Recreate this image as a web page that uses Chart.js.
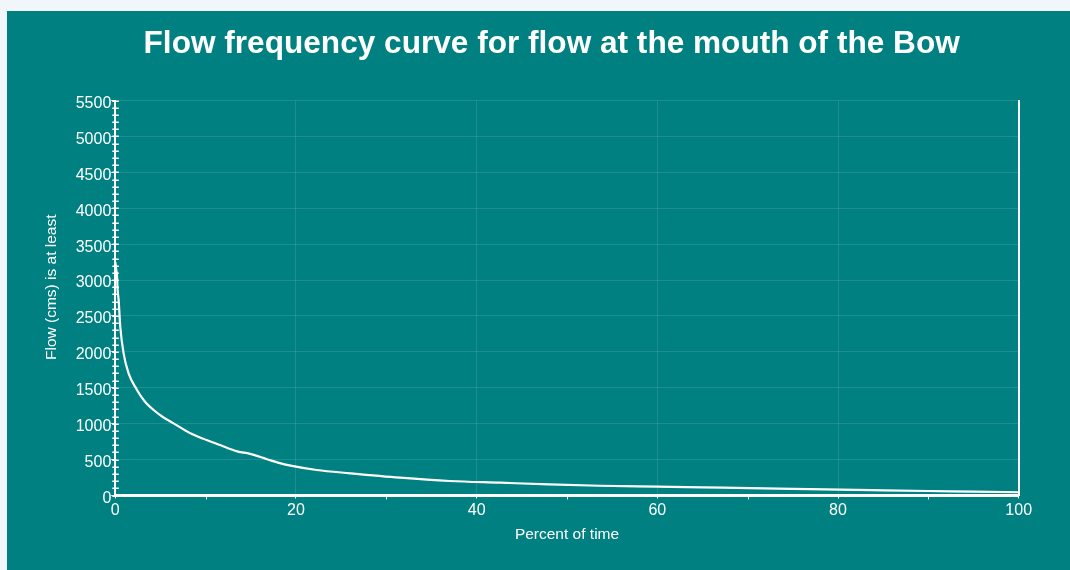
<!DOCTYPE html>
<html>
<head>
<meta charset="utf-8">
<title>Flow frequency curve for flow at the mouth of the Bow</title>
<script src="https://cdn.jsdelivr.net/npm/chart.js@4/dist/chart.umd.min.js"></script>
<style>
  html, body { margin: 0; padding: 0; }
  body { width: 1070px; height: 570px; background: #f1f6fa; overflow: hidden; position: relative; }
  #panel { position: absolute; left: 7px; top: 11px; width: 1063px; height: 559px; background: #008080; }
  #chart { display: block; }
</style>
</head>
<body>
<div id="panel"><canvas id="chart" width="1063" height="559"></canvas></div>
<script>
// Exceedance curve: percent of time (x) that the flow is at least a given value (y, cms)
const percentOfTime = [0, 0.1, 0.18, 0.26, 0.37, 0.55, 0.92, 1.47, 2.4, 3.2, 4.24, 5.3, 6.45, 8.3, 10.1, 11.6, 13.5, 14.9, 16.8, 18, 19.4, 22.3, 26, 31.5, 37, 42.6, 48, 53.6, 60, 65, 70.2, 75, 80.2, 85, 90, 95, 100];
const flowCms = [3250, 3150, 3080, 2860, 2720, 2350, 1980, 1700, 1470, 1320, 1190, 1090, 1005, 866, 773, 703, 615, 580, 505, 458, 415, 355, 309, 248, 202, 178, 155, 136, 123, 113, 104, 93, 81, 72, 63, 54, 45];

const chartTitle = 'Flow frequency curve for flow at the mouth of the Bow';
const xTitle = 'Percent of time';
const yTitle = 'Flow (cms) is at least';

const xRange = { min: 0, max: 100, major: 20, minor: 10 };
const yRange = { min: 0, max: 5500, major: 500, minor: 100 };

const FONT = "'Liberation Sans', Arial, Helvetica, sans-serif";
const WHITE = '#ffffff';
const GRID = 'rgba(255,255,255,0.11)';

const points = percentOfTime.map((p, i) => ({ x: p, y: flowCms[i] }));

// Small tick marks between the labelled ticks on both axes
const minorTicks = {
  id: 'minorTicks',
  afterDraw(chart) {
    const { ctx, chartArea } = chart;
    const xs = chart.scales.x, ys = chart.scales.y;
    ctx.save();
    ctx.strokeStyle = WHITE;
    ctx.lineWidth = 1.5;
    ctx.beginPath();
    for (let v = yRange.min; v <= yRange.max; v += yRange.minor) {
      const py = Math.round(ys.getPixelForValue(v)) + 0.25;
      ctx.moveTo(chartArea.left - 3, py);
      ctx.lineTo(chartArea.left + 3.5, py);
    }
    ctx.stroke();
    ctx.lineWidth = 1;
    ctx.beginPath();
    for (let v = xRange.min + xRange.minor; v < xRange.max; v += xRange.major) {
      const px = Math.round(xs.getPixelForValue(v)) + 0.5;
      ctx.moveTo(px, chartArea.bottom);
      ctx.lineTo(px, chartArea.bottom + 4);
    }
    ctx.stroke();
    ctx.restore();
  }
};

new Chart(document.getElementById('chart'), {
  type: 'line',
  data: {
    datasets: [{
      data: points,
      borderColor: WHITE,
      borderWidth: 2.2,
      pointRadius: 0,
      fill: false,
      cubicInterpolationMode: 'monotone'
    }]
  },
  options: {
    responsive: false,
    animation: false,
    layout: { padding: 0 },
    plugins: {
      legend: { display: false },
      tooltip: { enabled: false },
      title: {
        display: true,
        // leading spaces nudge the centred title slightly to the right
        text: '   ' + chartTitle,
        color: WHITE,
        font: { family: FONT, size: 31.6, weight: 'bold', lineHeight: 1.2 },
        padding: { top: 14, bottom: 37.6 }
      }
    },
    scales: {
      x: {
        type: 'linear',
        position: 'bottom',
        min: xRange.min,
        max: xRange.max,
        afterFit(scale) { scale.height = 74.5; },
        ticks: {
          stepSize: xRange.major,
          color: WHITE,
          font: { family: FONT, size: 16 },
          padding: 2,
          maxRotation: 0,
          callback: (v) => String(v)
        },
        grid: { color: GRID, tickColor: WHITE, tickLength: 3, lineWidth: 1 },
        border: { color: WHITE, width: 3 },
        title: {
          display: true,
          text: xTitle,
          color: WHITE,
          font: { family: FONT, size: 15.5 },
          padding: { top: 0, bottom: 26 }
        }
      },
      y: {
        type: 'linear',
        position: 'left',
        min: yRange.min,
        max: yRange.max,
        afterFit(scale) { scale.width = 108.3; },
        ticks: {
          stepSize: yRange.major,
          color: WHITE,
          font: { family: FONT, size: 16 },
          padding: 0,
          labelOffset: 3,
          callback: (v) => String(v)
        },
        grid: { color: GRID, tickColor: WHITE, tickLength: 4, lineWidth: 1 },
        border: { color: WHITE, width: 2 },
        title: {
          display: true,
          // leading spaces lift the rotated title a little above the axis centre
          text: '     ' + yTitle,
          color: WHITE,
          font: { family: FONT, size: 15.5 },
          padding: { top: 35, bottom: 0 }
        }
      },
      yRight: {
        type: 'linear',
        position: 'right',
        min: yRange.min,
        max: yRange.max,
        afterFit(scale) { scale.width = 51.3; },
        ticks: { display: false },
        grid: { drawOnChartArea: false, drawTicks: false },
        border: { color: WHITE, width: 2 }
      }
    }
  },
  plugins: [minorTicks]
});
</script>
</body>
</html>
